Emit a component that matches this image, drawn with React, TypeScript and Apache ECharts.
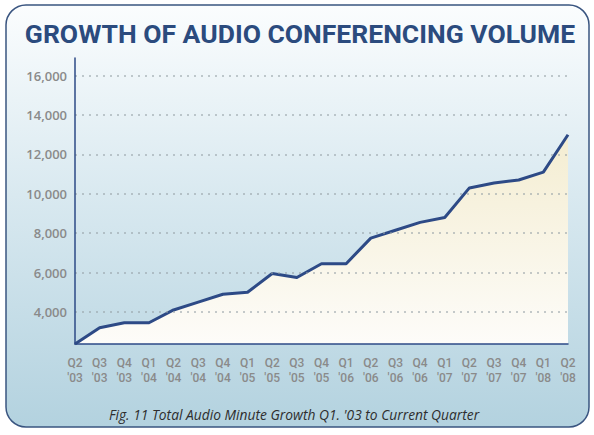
import React, { useEffect, useRef } from "react";
import * as echarts from "echarts";

const quarters = ["Q2", "Q3", "Q4", "Q1", "Q2", "Q3", "Q4", "Q1", "Q2", "Q3", "Q4", "Q1", "Q2", "Q3", "Q4", "Q1", "Q2", "Q3", "Q4", "Q1", "Q2"];
const years = ["'03", "'03", "'03", "'04", "'04", "'04", "'04", "'05", "'05", "'05", "'05", "'06", "'06", "'06", "'06", "'07", "'07", "'07", "'07", "'08", "'08"];
const categories = quarters.map((q, i) => `${q} ${years[i]}`);
const minutes = [2370, 3200, 3450, 3450, 4100, 4500, 4900, 5000, 5950, 5750, 6450, 6450, 7750, 8150, 8550, 8800, 10300, 10550, 10700, 11100, 13000];
const yTicks = [4000, 6000, 8000, 10000, 12000, 14000, 16000];

const titleText = "GROWTH OF AUDIO CONFERENCING VOLUME";
const captionText = "Fig. 11 Total Audio Minute Growth Q1. '03 to Current Quarter";

export default function App() {
  const ref = useRef<HTMLDivElement>(null);
  useEffect(() => {
    if (!ref.current) return;
    const chart = echarts.init(ref.current, null, { renderer: "svg" });
    const navy = "#2d4a86";
    chart.setOption({
      animation: false,
      backgroundColor: "#ffffff",
      graphic: [
        {
          type: "rect",
          z: -10,
          shape: { x: 6, y: 5, width: 583, height: 422, r: 20 },
          style: {
            fill: new echarts.graphic.LinearGradient(0, 0, 0, 1, [
              { offset: 0, color: "#fbfdfe" },
              { offset: 0.45, color: "#d9e9f0" },
              { offset: 1, color: "#b3d2df" },
            ]),
            stroke: "#3a5580",
            lineWidth: 1.5,
          },
        },
        {
          type: "text",
          x: 300,
          y: 33,
          style: {
            text: titleText,
            align: "center",
            verticalAlign: "middle",
            fill: "#2b4b7e",
            font: "bold 26.5px Roboto",
          },
        },
        {
          type: "text",
          x: 294,
          y: 414,
          style: {
            text: captionText,
            align: "center",
            verticalAlign: "middle",
            fill: "#2e2e2e",
            font: "italic 13.8px 'Open Sans'",
          },
        },
      ],
      grid: { left: 75, right: 26, top: 58, bottom: 91, containLabel: false },
      xAxis: {
        type: "category",
        data: categories,
        boundaryGap: false,
        z: 3,
        axisLine: { lineStyle: { color: navy, width: 1.5 } },
        axisTick: { show: false },
        splitLine: { show: false },
        axisLabel: {
          interval: 0,
          margin: 11,
          lineHeight: 15,
          color: "#8a8a8a",
          fontSize: 12,
          fontWeight: 500,
          fontFamily: "Roboto",
          formatter: (_v: string, i: number) => `${quarters[i]}\n${years[i]}`,
        },
      },
      yAxis: {
        type: "value",
        min: 2370,
        max: 16900,
        z: 3,
        axisLine: { show: true, lineStyle: { color: navy, width: 1.5 } },
        axisTick: { show: false, customValues: yTicks },
        axisLabel: {
          customValues: yTicks,
          margin: 8,
          color: "#8a8a8a",
          fontSize: 13,
          fontWeight: 600,
          fontFamily: "Open Sans",
          formatter: (v: number) => v.toLocaleString("en-US"),
        },
        splitLine: {
          show: true,
          lineStyle: { type: [2, 5], width: 2, color: "rgba(150,160,166,0.55)" },
        },
      },
      series: [
        {
          type: "line",
          data: minutes,
          symbol: "none",
          z: 2,
          lineStyle: { color: navy, width: 3, join: "round" },
          areaStyle: {
            color: new echarts.graphic.LinearGradient(0, 0, 0, 1, [
              { offset: 0, color: "#f4edd1" },
              { offset: 1, color: "#fdfcf9" },
            ]),
            opacity: 1,
          },
        },
      ],
    });
    return () => chart.dispose();
  }, []);
  return <div ref={ref} style={{ position: "fixed", left: 0, top: 0, width: 594, height: 435 }} />;
}
